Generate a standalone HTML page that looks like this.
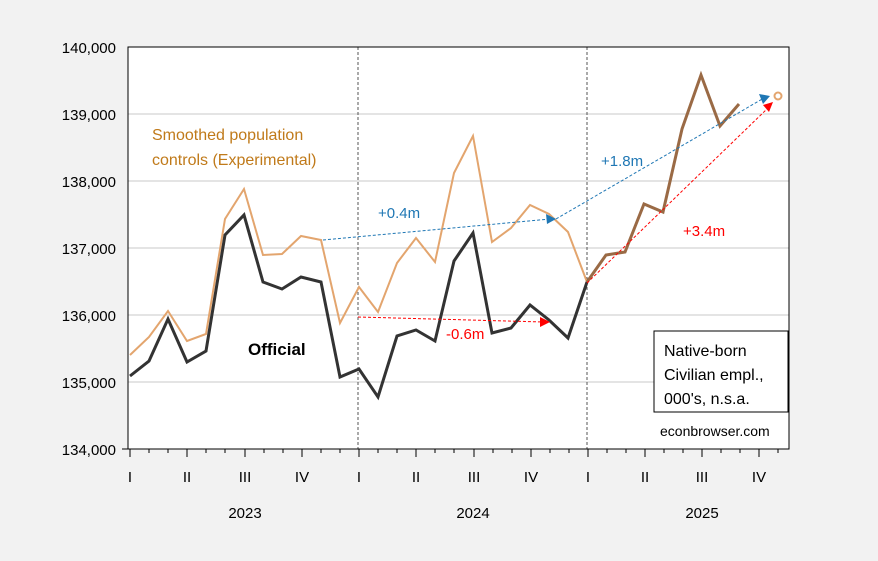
<!DOCTYPE html>
<html><head><meta charset="utf-8"><style>
body{margin:0;background:#f2f2f2;}
svg{display:block;font-family:"Liberation Sans",Arial,sans-serif;}
</style></head><body>
<svg width="878" height="561" viewBox="0 0 878 561">
<rect width="878" height="561" fill="#f2f2f2"/>
<rect x="128" y="47" width="661" height="402" fill="#fff"/>
<g stroke="#c8c8c8" stroke-width="1">
<line x1="128" x2="789" y1="114" y2="114"/><line x1="128" x2="789" y1="181" y2="181"/>
<line x1="128" x2="789" y1="248" y2="248"/><line x1="128" x2="789" y1="315" y2="315"/>
<line x1="128" x2="789" y1="382" y2="382"/>
</g>
<g stroke="#555" stroke-width="1" stroke-dasharray="3,2">
<line x1="358" x2="358" y1="47" y2="449"/><line x1="587" x2="587" y1="47" y2="449"/>
</g>
<rect x="128" y="47" width="661" height="402" fill="none" stroke="#000"/>
<g font-size="15" fill="#000" text-anchor="end">
<text x="116" y="53">140,000</text><text x="116" y="120">139,000</text><text x="116" y="187">138,000</text>
<text x="116" y="254">137,000</text><text x="116" y="321">136,000</text><text x="116" y="388">135,000</text><text x="116" y="455">134,000</text>
</g>
<g stroke="#000">
<line x1="122" x2="128" y1="449" y2="449"/>
<path d="M130,449v8M187,449v8M245,449v8M302,449v8M359,449v8M416,449v8M474,449v8M531,449v8M588,449v8M645,449v8M702,449v8M759,449v8M149,449v4M168,449v4M206,449v4M225,449v4M264,449v4M283,449v4M321,449v4M340,449v4M378,449v4M397,449v4M435,449v4M454,449v4M493,449v4M512,449v4M550,449v4M569,449v4M607,449v4M626,449v4M664,449v4M683,449v4M721,449v4M740,449v4M778,449v4"/>
</g>
<g font-size="15" text-anchor="middle">
<text x="130" y="482">I</text><text x="187" y="482">II</text><text x="245" y="482">III</text><text x="302" y="482">IV</text>
<text x="359" y="482">I</text><text x="416" y="482">II</text><text x="474" y="482">III</text><text x="531" y="482">IV</text>
<text x="588" y="482">I</text><text x="645" y="482">II</text><text x="702" y="482">III</text><text x="759" y="482">IV</text>
<text x="245" y="518">2023</text><text x="473" y="518">2024</text><text x="702" y="518">2025</text>
</g>
<polyline fill="none" stroke="#e3a56e" stroke-width="2" points="130,355 149,337 168,311 187,341 206,334 225,219 244,189 263,255 282,254 301,236 321,240 340,323 359,287 378,312 397,263 416,238 435,262 454,173 473,136 492,242 511,228 530,205 549,214 568,232 587,282"/>
<polyline fill="none" stroke="#333" stroke-width="3" points="130,376 149,361 168,319 187,362 206,351 225,235 244,215 263,282 282,289 301,277 321,282 340,377 359,369 378,397 397,336 416,330 435,341 454,261 473,233 492,333 511,328 530,305 549,320 568,338 587,282"/>
<polyline fill="none" stroke="#9a6a45" stroke-width="3" points="587,282 606,255 625,252 644,204 663,212 682,129 701,75 720,126 739,104"/>
<g stroke-width="1" stroke-dasharray="3,2" fill="none">
<line x1="323" y1="240" x2="550" y2="219" stroke="#1f77b4"/>
<line x1="556" y1="219" x2="764" y2="98" stroke="#1f77b4"/>
<line x1="358" y1="317" x2="544" y2="322" stroke="red"/>
<line x1="587" y1="283" x2="768" y2="108" stroke="red"/>
</g>
<polygon points="556,219 546,214 547,224" fill="#1f77b4"/>
<polygon points="770,96 759,94 763,104" fill="#1f77b4"/>
<polygon points="550,322 540,317 540,327" fill="red"/>
<polygon points="773,102 763,105 769,112" fill="red"/>
<circle cx="778" cy="96" r="3.5" fill="#fff" stroke="#e3a56e" stroke-width="2"/>
<g font-size="16" fill="#c07a1a"><text x="152" y="140">Smoothed population</text><text x="152" y="165">controls (Experimental)</text></g>
<text x="248" y="355" font-size="17" font-weight="bold">Official</text>
<text x="378" y="218" font-size="15" fill="#1f77b4">+0.4m</text>
<text x="601" y="166" font-size="15" fill="#1f77b4">+1.8m</text>
<text x="446" y="339" font-size="15" fill="red">-0.6m</text>
<text x="683" y="236" font-size="15" fill="red">+3.4m</text>
<rect x="654" y="331" width="134" height="81" fill="#fff" stroke="#000"/>
<g font-size="16"><text x="664" y="356">Native-born</text><text x="664" y="380">Civilian empl.,</text><text x="664" y="404">000's, n.s.a.</text></g>
<text x="660" y="436" font-size="14">econbrowser.com</text>
</svg>
</body></html>
